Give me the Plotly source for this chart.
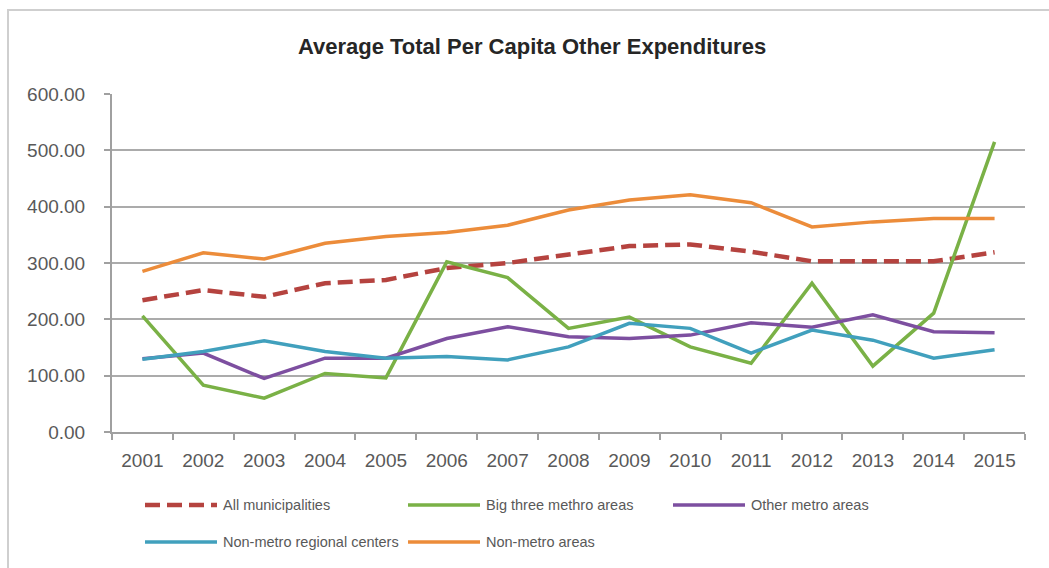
import plotly.graph_objects as go

# ---------------- data ----------------
years = ["2001", "2002", "2003", "2004", "2005", "2006", "2007", "2008",
         "2009", "2010", "2011", "2012", "2013", "2014", "2015"]
all_municipalities = [234, 252, 240, 264, 270, 291, 300, 314, 330, 333, 320, 303, 303, 303, 319]
big_three_metro = [206, 83, 60, 104, 96, 302, 274, 184, 204, 151, 122, 264, 117, 211, 515]
other_metro = [130, 140, 95, 131, 131, 166, 187, 169, 166, 172, 194, 186, 208, 178, 176]
non_metro_regional = [129, 143, 162, 143, 131, 134, 128, 151, 193, 184, 140, 181, 163, 131, 146]
non_metro_areas = [285, 318, 307, 335, 347, 354, 367, 394, 412, 421, 407, 364, 373, 379, 379]

series_names = ["All municipalities", "Big three methro areas", "Other metro areas",
                "Non-metro regional centers", "Non-metro areas"]
series_values = [all_municipalities, big_three_metro, other_metro,
                 non_metro_regional, non_metro_areas]
y_ticks = [0, 100, 200, 300, 400, 500, 600]
title_text = "Average Total Per Capita Other Expenditures"

# ---------------- styles ----------------
colors = ["#B5433F", "#7AB146", "#7D4FA0", "#41A0BD", "#EC8C3A"]
dashes = ["15px,7px", "solid", "solid", "solid", "solid"]
widths = [4.5, 3.5, 3.5, 3.5, 3.5]

W, H = 1049, 568
L, R, T, B = 112, 24, 94, 136
PW, PH = W - L - R, H - T - B


def px(x):
    return (x - L) / PW


def py(y):
    return (H - B - y) / PH


fig = go.Figure()
for name, vals, c, d, w in zip(series_names, series_values, colors, dashes, widths):
    fig.add_trace(go.Scatter(x=years, y=vals, name=name, mode="lines",
                             line=dict(color=c, width=w, dash=d),
                             showlegend=False))

# manual legend (Excel style long line samples)
legend_slots = [(145, 505), (408, 505), (673, 505), (145, 542), (408, 542)]
shapes = []
annotations = []
for (lx, ly), name, c, d, w in zip(legend_slots, series_names, colors, dashes, widths):
    shapes.append(dict(type="line", xref="paper", yref="paper",
                       x0=px(lx), x1=px(lx + 72), y0=py(ly), y1=py(ly),
                       line=dict(color=c, width=w, dash=d)))
    annotations.append(dict(text=name, xref="paper", yref="paper",
                            x=px(lx + 76), y=py(ly), xanchor="left", yanchor="middle",
                            showarrow=False,
                            font=dict(family="Liberation Sans", size=14.5, color="#595959")))

# chart frame
shapes.append(dict(type="rect", xref="paper", yref="paper",
                   x0=px(8), x1=px(1060), y0=py(10), y1=py(580),
                   line=dict(color="#CFCFCF", width=2), layer="below"))

fig.update_layout(
    width=W, height=H,
    margin=dict(l=L, r=R, t=T, b=B, autoexpand=False),
    paper_bgcolor="white", plot_bgcolor="white",
    title=dict(text="<b>" + title_text + "</b>", xref="container", x=532 / W,
               xanchor="center", yref="container", y=1 - 46 / H, yanchor="middle",
               font=dict(family="Liberation Sans", size=22, color="#262626")),
    xaxis=dict(type="category", range=[-0.5, len(years) - 0.5], automargin=False,
               tickson="boundaries", ticks="outside", ticklen=6,
               tickcolor="#A0A0A0", tickwidth=1.5,
               showline=True, linecolor="#A0A0A0", linewidth=2, showgrid=False,
               tickfont=dict(family="Liberation Sans", size=19, color="#595959"),
               ticklabelstandoff=10),
    yaxis=dict(range=[0, 600], tickvals=y_ticks, tickformat=".2f", automargin=False,
               ticks="outside", ticklen=6, tickcolor="#A0A0A0", tickwidth=1.5,
               showline=True, linecolor="#A0A0A0", linewidth=2,
               showgrid=True, gridcolor="#ABABAB", gridwidth=2, zeroline=False,
               tickfont=dict(family="Liberation Sans", size=19, color="#595959"),
               ticklabelstandoff=15),
    shapes=shapes,
    annotations=annotations,
)

fig.write_html("out.html", config={"displayModeBar": False},
               post_script="document.body.style.margin='0';document.body.style.overflow='hidden';")
